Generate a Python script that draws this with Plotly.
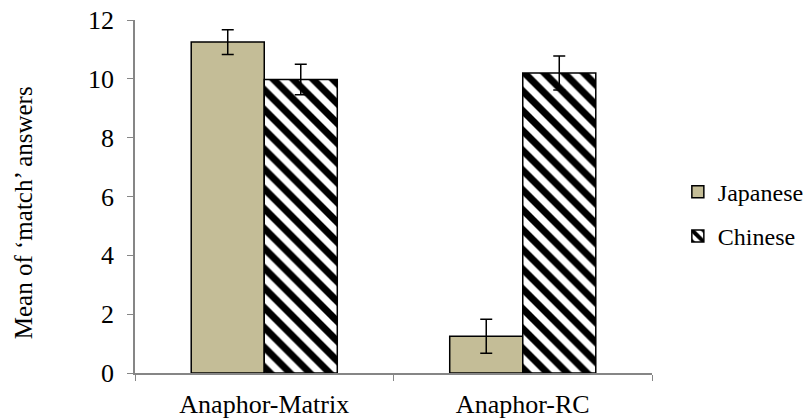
import plotly.graph_objects as go

categories = ["Anaphor-Matrix", "Anaphor-RC"]
japanese = [11.25, 1.25]
japanese_err = [0.42, 0.58]
chinese = [9.98, 10.2]
chinese_err = [0.52, 0.58]
y_title = "Mean of ‘match’ answers"

font_family = "'Liberation Serif', 'Times New Roman', Times, serif"

fig = go.Figure()
fig.add_trace(go.Bar(
    x=categories, y=japanese, name="Japanese", legendgroup="j",
    marker=dict(color="#C4BD97", line=dict(color="black", width=1.5)),
    error_y=dict(type="data", array=japanese_err, color="black", thickness=1.5, width=6),
))
fig.add_trace(go.Bar(
    x=categories, y=chinese, name="Chinese", legendgroup="c",
    marker=dict(color="white", line=dict(color="black", width=1.5),
                pattern=dict(shape="\\", fgcolor="black", bgcolor="white",
                             size=14, solidity=0.5, fillmode="overlay", fgopacity=1)),
    error_y=dict(type="data", array=chinese_err, color="black", thickness=1.5, width=6),
))

fig.update_layout(
    width=806, height=419,
    margin=dict(l=135, r=154, t=20, b=46, autoexpand=False),
    paper_bgcolor="white", plot_bgcolor="white",
    barmode="group", bargap=0.435, bargroupgap=0,
    font=dict(family=font_family, size=25, color="black"),
    legend=dict(x=1.05, y=0.45, xanchor="left", yanchor="middle",
                font=dict(size=24, family=font_family), tracegroupgap=10,
                traceorder="grouped"),
    showlegend=True,
    annotations=[dict(
        text=y_title, textangle=-90, xref="paper", yref="paper",
        x=-0.215, y=0.455, xanchor="center", yanchor="middle", showarrow=False,
        font=dict(size=25, family=font_family, color="black"),
    )],
)
fig.update_xaxes(
    showline=True, linecolor="#868686", linewidth=1.5,
    ticks="outside", tickson="boundaries", ticklen=6, tickcolor="#868686",
    showgrid=False, range=[-0.5, 1.5], tickfont=dict(size=26, family=font_family),
    ticklabelstandoff=7,
)
fig.update_yaxes(
    range=[0, 12], dtick=2, showline=True, linecolor="#868686", linewidth=1.5,
    ticks="outside", ticklen=6, tickcolor="#868686", showgrid=False,
    zeroline=False, tickfont=dict(size=26, family=font_family), ticklabelstandoff=8,
)

fig.write_html("out.html")
